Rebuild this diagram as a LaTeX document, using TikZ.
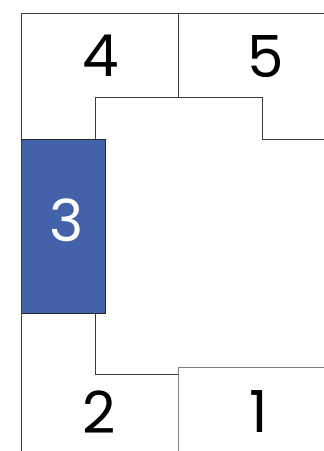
\documentclass[tikz,border=0pt]{standalone}
\usepackage{fontspec}
\setmainfont{Poppins}
\definecolor{roomblue}{RGB}{67,98,170}
\definecolor{wallgray}{RGB}{60,60,60}

\begin{document}
\begin{tikzpicture}
        [x=1pt,y=-1pt,
          walldecorate/.style={draw=wallgray,line width=0.9pt},%
          roomlabel/.style={inner sep=0pt,font=\fontsize{58}{64}\selectfont},%
          selectedroom/.style={fill=roomblue,draw=black!85,line width=1pt}]
        \useasboundingbox (0,0) rectangle (324,451);
        %% highlighted room
        \path[selectedroom] (21,139) rectangle (105,313);
        %% walls
        \path[walldecorate] (324,13.5) -- (21,13.5) -- (21,451);
        \path[walldecorate] (178.5,13.5) -- (178.5,97);
        \path[walldecorate] (95,139) -- (95,97) -- (262,97) -- (262,139.5)
          -- (324,139.5);
        \path[walldecorate] (95,313) -- (95,374) -- (178,374);
        \path[walldecorate,draw=gray] (178,451) -- (178,367) -- (324,367);
        %% room numbers
        \foreach \roomname/\rx/\ry in {4/101/56, 5/266/57, 2/99/412, 1/259/412}
        {
          \node (room\roomname) at (\rx,\ry) [roomlabel] {\roomname};
        }
        \node (room3) at (67,220) [roomlabel,text=white] {3};
\end{tikzpicture}
\end{document}
